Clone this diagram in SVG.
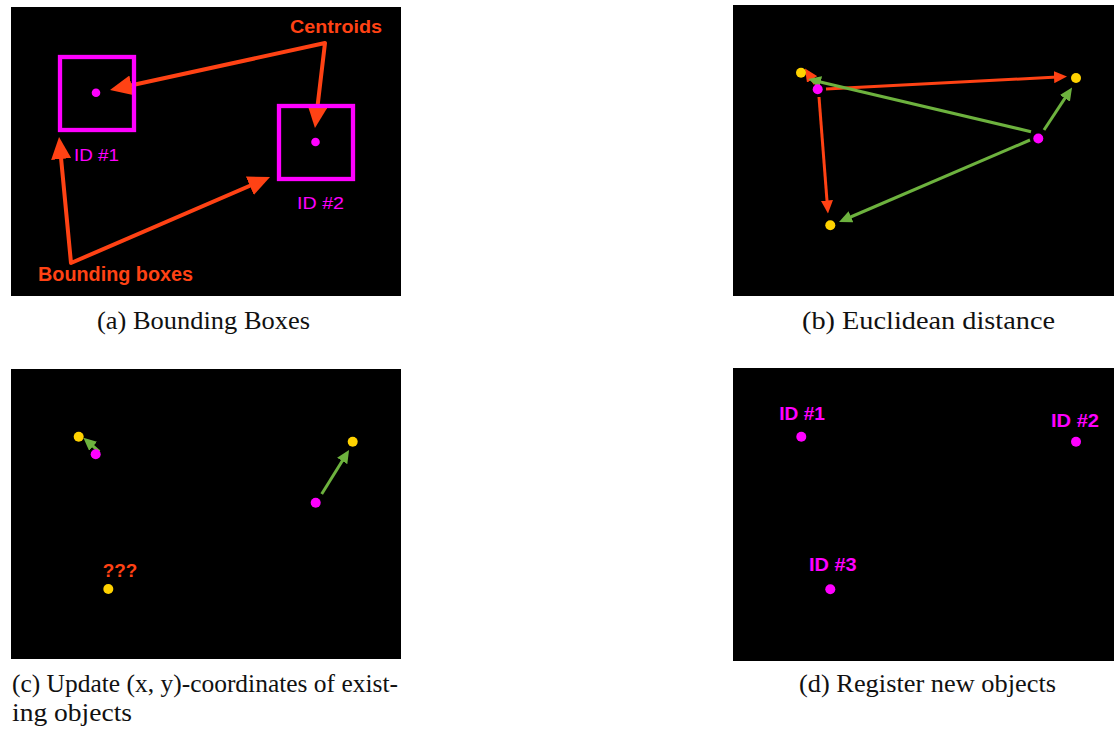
<svg xmlns="http://www.w3.org/2000/svg" width="1115" height="733" viewBox="0 0 1115 733">
  <defs>
    <style>
      .panel { fill: #000000; }
      .box { fill: none; stroke: #FF00FF; stroke-width: 4.3; }
      .mag { fill: #FF00FF; }
      .yel { fill: #FFD200; }
      .lbl { font-family: "Liberation Sans", Arial, sans-serif; }
      .bold { font-weight: bold; }
      .red { fill: #FF4214; }
      .pink { fill: #FF00FF; }
      .cap { font-family: "Liberation Serif", "Times New Roman", serif; font-size: 26px; fill: #111111; }
      .big { fill: none; stroke: #FF4214; stroke-width: 4; stroke-linejoin: round; marker-start: url(#headBig); marker-end: url(#headBig); }
      .thinR { fill: none; stroke: #FF4214; stroke-width: 3; marker-end: url(#headRed); }
      .thinG { fill: none; stroke: #6DB23E; stroke-width: 3; marker-end: url(#headGreen); }
    </style>
    <marker id="headBig" markerUnits="userSpaceOnUse" markerWidth="22" markerHeight="20" viewBox="0 0 22 20" refX="14" refY="10" orient="auto-start-reverse">
      <path d="M0,0 L22,10 L0,20 z" fill="#FF4214"/>
    </marker>
    <marker id="headRed" markerUnits="userSpaceOnUse" markerWidth="13" markerHeight="12" viewBox="0 0 13 12" refX="8" refY="6" orient="auto">
      <path d="M0,0 L13,6 L0,12 z" fill="#FF4214"/>
    </marker>
    <marker id="headGreen" markerUnits="userSpaceOnUse" markerWidth="13" markerHeight="12" viewBox="0 0 13 12" refX="8" refY="6" orient="auto">
      <path d="M0,0 L13,6 L0,12 z" fill="#6DB23E"/>
    </marker>
  </defs>

  <rect width="1115" height="733" fill="#FFFFFF"/>

  <!-- panel backgrounds -->
  <rect class="panel" x="11" y="7" width="390" height="289"/>
  <rect class="panel" x="733" y="5" width="381" height="291"/>
  <rect class="panel" x="11" y="369" width="390" height="290"/>
  <rect class="panel" x="733" y="368" width="381" height="293"/>

  <!-- connectors -->
  <g id="connectors">
    <!-- (a) callout arrows -->
    <path class="big" d="M117.8,88.3 L325,43 L315.9,120.1"/>
    <path class="big" d="M59.8,145 L71,263 L262.7,180.2"/>
    <!-- (b) distances -->
    <path class="thinR" d="M826,89 L1062,76.8"/>
    <path class="thinR" d="M815,84 L807.7,72.7"/>
    <path class="thinR" d="M819,97 L827.6,208.5"/>
    <path class="thinG" d="M1031,131.7 L812.9,80.2"/>
    <path class="thinG" d="M1044,130 L1069.3,91.7"/>
    <path class="thinG" d="M1030,140 L843.6,220"/>
    <!-- (c) updates -->
    <path class="thinG" d="M99.3,451.7 L87.1,441"/>
    <path class="thinG" d="M321.7,494 L346.4,454.2"/>
  </g>

  <!-- (a) bounding boxes -->
  <g id="a-box1">
    <rect class="box" x="60" y="57" width="74" height="73"/>
    <circle class="mag" cx="96" cy="92.7" r="4.3"/>
    <text class="lbl pink" x="74" y="161" font-size="16.5" textLength="45" lengthAdjust="spacingAndGlyphs">ID #1</text>
  </g>
  <g id="a-box2">
    <rect class="box" x="279" y="106" width="74" height="73"/>
    <circle class="mag" cx="315.5" cy="142" r="4.3"/>
    <text class="lbl pink" x="297" y="209" font-size="16.5" textLength="47" lengthAdjust="spacingAndGlyphs">ID #2</text>
  </g>
  <g id="a-labels">
    <text class="lbl bold red" x="290" y="33" font-size="18.5" textLength="92" lengthAdjust="spacingAndGlyphs">Centroids</text>
    <text class="lbl bold red" x="38" y="281" font-size="19.5" textLength="155" lengthAdjust="spacingAndGlyphs">Bounding boxes</text>
  </g>

  <!-- (b) centroids old/new -->
  <g id="b-points">
    <circle class="yel" cx="801" cy="72.7" r="5"/>
    <circle class="mag" cx="817.7" cy="89.3" r="5"/>
    <circle class="yel" cx="1076" cy="78" r="5"/>
    <circle class="mag" cx="1038.3" cy="138.5" r="5"/>
    <circle class="yel" cx="830.3" cy="225.3" r="5"/>
  </g>

  <!-- (c) updated points -->
  <g id="c-points">
    <circle class="yel" cx="78.7" cy="436.7" r="5"/>
    <circle class="mag" cx="95.7" cy="454.3" r="5"/>
    <circle class="yel" cx="352.7" cy="441.7" r="5"/>
    <circle class="mag" cx="315.7" cy="502.7" r="5"/>
    <circle class="yel" cx="108.3" cy="589" r="5"/>
    <text class="lbl bold red" x="102.7" y="576.7" font-size="19" textLength="34.6" lengthAdjust="spacingAndGlyphs">???</text>
  </g>

  <!-- (d) registered objects -->
  <g id="d-id1">
    <circle class="mag" cx="801.3" cy="436.7" r="5"/>
    <text class="lbl bold pink" x="779.3" y="420" font-size="18.5" textLength="45.7" lengthAdjust="spacingAndGlyphs">ID #1</text>
  </g>
  <g id="d-id2">
    <circle class="mag" cx="1076" cy="441.7" r="5"/>
    <text class="lbl bold pink" x="1051" y="426.7" font-size="18.5" textLength="48" lengthAdjust="spacingAndGlyphs">ID #2</text>
  </g>
  <g id="d-id3">
    <circle class="mag" cx="830.3" cy="589.3" r="5"/>
    <text class="lbl bold pink" x="809" y="571" font-size="18.5" textLength="47.7" lengthAdjust="spacingAndGlyphs">ID #3</text>
  </g>

  <!-- captions -->
  <g id="captions">
    <text class="cap" x="97" y="329" textLength="213" lengthAdjust="spacingAndGlyphs">(a) Bounding Boxes</text>
    <text class="cap" x="802" y="329" textLength="253" lengthAdjust="spacingAndGlyphs">(b) Euclidean distance</text>
    <text class="cap" x="12" y="692" textLength="386" lengthAdjust="spacingAndGlyphs">(c) Update (x, y)-coordinates of exist-</text>
    <text class="cap" x="12" y="721" textLength="120" lengthAdjust="spacingAndGlyphs">ing objects</text>
    <text class="cap" x="799" y="692" textLength="257" lengthAdjust="spacingAndGlyphs">(d) Register new objects</text>
  </g>
</svg>
